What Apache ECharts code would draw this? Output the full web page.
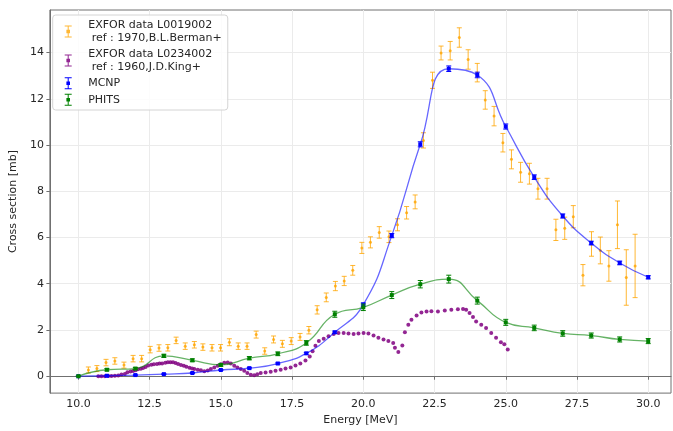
<!DOCTYPE html>
<html><head><meta charset="utf-8">
<script src="https://cdn.jsdelivr.net/npm/echarts@6/dist/echarts.min.js"></script>
<style>html,body{margin:0;padding:0;background:#fff}#c{width:673px;height:431px}</style>
</head><body><div id="c"></div>
<script>
// ---------- data ----------
const xTicks = [10, 12.5, 15, 17.5, 20, 22.5, 25, 27.5, 30];
const yTicks = [0, 2, 4, 6, 8, 10, 12, 14];

const legendNames = ['EXFOR data L0019002', 'EXFOR data L0234002', 'MCNP', 'PHITS'];
const legendLabels = ['EXFOR data L0019002\n ref : 1970,B.L.Berman+', 'EXFOR data L0234002\n ref : 1960,J.D.King+', 'MCNP', 'PHITS'];

const bermanE = [10.35,10.65,10.97,11.28,11.60,11.92,12.22,12.52,12.83,13.14,13.43,13.75,14.07,14.37,14.69,14.99,15.30,15.61,15.92,16.24,16.54,16.85,17.16,17.47,17.78,18.09,18.38,18.70,19.02,19.33,19.63,19.95,20.25,20.56,20.90,21.20,21.52,21.82,22.11,22.43,22.73,23.05,23.37,23.68,24.00,24.28,24.59,24.90,25.20,25.52,25.83,26.13,26.45,26.76,27.07,27.37,27.71,28.01,28.32,28.62,28.92,29.23,29.54];
const bermanV = [0.27,0.33,0.59,0.66,0.48,0.76,0.76,1.15,1.22,1.23,1.55,1.30,1.36,1.26,1.23,1.23,1.47,1.30,1.30,1.80,1.09,1.59,1.40,1.52,1.70,1.99,2.87,3.41,3.90,4.12,4.58,5.55,5.79,6.22,6.03,6.55,7.07,7.54,10.20,12.80,13.98,14.08,14.65,13.70,13.13,11.95,11.25,10.10,9.38,8.82,8.76,8.11,8.11,6.33,6.40,6.90,4.37,5.72,5.44,4.77,6.55,4.27,4.77];
const bermanErr = [0.13,0.13,0.14,0.14,0.13,0.14,0.14,0.14,0.14,0.14,0.14,0.14,0.14,0.14,0.14,0.14,0.15,0.14,0.14,0.15,0.14,0.15,0.15,0.15,0.15,0.16,0.18,0.19,0.20,0.20,0.21,0.24,0.24,0.25,0.25,0.26,0.27,0.30,0.33,0.35,0.30,0.40,0.42,0.42,0.40,0.40,0.42,0.40,0.41,0.43,0.45,0.45,0.45,0.46,0.48,0.48,0.46,0.53,0.58,0.66,1.03,1.20,1.37];

const kingE = [10.70,10.81,10.93,11.05,11.16,11.28,11.40,11.51,11.63,11.72,11.83,11.92,12.01,12.09,12.19,12.27,12.36,12.45,12.56,12.65,12.76,12.85,12.94,13.05,13.14,13.23,13.32,13.41,13.50,13.60,13.70,13.79,13.90,13.99,14.07,14.19,14.30,14.42,14.54,14.65,14.77,14.89,15.00,15.12,15.24,15.35,15.47,15.58,15.70,15.82,15.93,16.05,16.17,16.28,16.40,16.57,16.75,16.92,17.10,17.27,17.45,17.62,17.79,17.97,18.12,18.22,18.32,18.44,18.61,18.78,18.96,19.13,19.31,19.48,19.66,19.83,20.01,20.18,20.36,20.53,20.71,20.88,21.05,21.11,21.23,21.37,21.46,21.58,21.69,21.87,22.04,22.22,22.39,22.62,22.86,23.09,23.32,23.50,23.61,23.73,23.85,23.96,24.14,24.31,24.49,24.66,24.83,24.95,25.07];
const kingV = [0.00,0.00,0.00,0.01,0.01,0.02,0.03,0.07,0.10,0.17,0.20,0.23,0.26,0.30,0.32,0.36,0.40,0.46,0.50,0.52,0.53,0.55,0.55,0.58,0.60,0.60,0.60,0.57,0.53,0.49,0.45,0.41,0.37,0.33,0.31,0.28,0.26,0.22,0.25,0.31,0.38,0.45,0.52,0.58,0.59,0.55,0.45,0.38,0.31,0.24,0.14,0.06,0.04,0.09,0.14,0.16,0.19,0.24,0.28,0.33,0.38,0.46,0.55,0.68,0.85,1.08,1.32,1.52,1.62,1.73,1.83,1.87,1.87,1.85,1.83,1.85,1.87,1.85,1.76,1.66,1.59,1.52,1.44,1.23,1.05,1.33,1.90,2.23,2.44,2.63,2.76,2.80,2.81,2.80,2.84,2.87,2.90,2.91,2.87,2.73,2.56,2.37,2.23,2.09,1.87,1.66,1.47,1.38,1.16];

const mcnpE = [10,11,12,13,14,15,16,17,18,19,20,21,22,23,24,25,26,27,28,29,30];
const mcnpV = [0.00,0.02,0.05,0.09,0.14,0.27,0.35,0.55,0.99,1.90,3.10,6.08,10.03,13.30,13.03,10.80,8.61,6.93,5.76,4.90,4.28];
const mcnpErr = [0.01,0.01,0.01,0.02,0.02,0.02,0.03,0.03,0.04,0.05,0.07,0.09,0.11,0.12,0.12,0.11,0.10,0.09,0.08,0.08,0.07];

const phitsE = [10,11,12,13,14,15,16,17,18,19,20,21,22,23,24,25,26,27,28,29,30];
const phitsV = [0.00,0.28,0.33,0.88,0.69,0.49,0.78,0.97,1.44,2.68,2.98,3.51,3.98,4.20,3.27,2.33,2.09,1.85,1.76,1.59,1.52];
const phitsErr = [0.01,0.05,0.05,0.07,0.06,0.06,0.07,0.08,0.10,0.13,0.14,0.15,0.16,0.17,0.15,0.13,0.12,0.12,0.11,0.11,0.11];

// ---------- styling ----------
const FONT = 'DejaVu Sans';
const cOrange = '#FFA500', cPurple = '#800080', cBlue = '#0000FF', cGreen = '#008000';
const ebIcon = 'path://M0,6h0.02v0.02h-0.02z M29.98,6h0.02v0.02h-0.02z M11.5,0h7v1h-7z M14.5,0h1v12h-1z M11.5,11h7v1h-7z M13.2,4.2h3.6v3.6h-3.6z';

function errRender(color, capHalf, m, shape, opacity) {
  return function (params, api) {
    const x = api.value(0), y = api.value(1), e = api.value(2);
    const p = api.coord([x, y]), t = api.coord([x, y + e]), b = api.coord([x, y - e]);
    const st = { stroke: color, lineWidth: 1, opacity: opacity };
    const ch = [
      { type: 'line', shape: { x1: p[0], y1: t[1], x2: p[0], y2: b[1] }, style: st },
      { type: 'line', shape: { x1: p[0] - capHalf, y1: t[1], x2: p[0] + capHalf, y2: t[1] }, style: st },
      { type: 'line', shape: { x1: p[0] - capHalf, y1: b[1], x2: p[0] + capHalf, y2: b[1] }, style: st }
    ];
    if (shape === 'rect') ch.push({ type: 'rect', shape: { x: p[0] - m / 2, y: p[1] - m / 2, width: m, height: m }, style: { fill: color, opacity: opacity } });
    else ch.push({ type: 'circle', shape: { cx: p[0], cy: p[1], r: m / 2 }, style: { fill: color, opacity: opacity } });
    return { type: 'group', children: ch };
  };
}
const zip3 = (a, b, c) => a.map((v, i) => [v, b[i], c[i]]);
const zip2 = (a, b) => a.map((v, i) => [v, b[i]]);

const axisCol = '#707070';
const chart = echarts.init(document.getElementById('c'), null, { renderer: 'canvas' });
chart.setOption({
  animation: false,
  textStyle: { fontFamily: FONT },
  grid: { left: 46.4, right: 2, top: 10, bottom: 34, show: true, borderColor: axisCol, borderWidth: 1, containLabel: false },
  xAxis: {
    type: 'value', min: 9, max: 30.8,
    name: 'Energy [MeV]', nameLocation: 'middle', nameGap: 21,
    nameTextStyle: { fontFamily: FONT, fontSize: 11, color: '#262626' },
    axisLine: { show: true, lineStyle: { color: axisCol } },
    axisTick: { show: true, length: 3.5, customValues: xTicks, lineStyle: { color: axisCol } },
    axisLabel: { customValues: xTicks, formatter: v => Number(v).toFixed(1), fontFamily: FONT, fontSize: 11, color: '#262626', margin: 6 },
    splitLine: { show: true, lineStyle: { color: '#ebebeb', width: 1 } }
  },
  yAxis: {
    type: 'value', min: -0.73, max: 15.84,
    name: 'Cross section [mb]', nameLocation: 'middle', nameGap: 18,
    nameTextStyle: { fontFamily: FONT, fontSize: 11, color: '#262626' },
    axisLine: { show: true, lineStyle: { color: axisCol } },
    axisTick: { show: true, length: 3.5, customValues: yTicks, lineStyle: { color: axisCol } },
    axisLabel: { customValues: yTicks, formatter: v => String(Math.round(v)), fontFamily: FONT, fontSize: 11, color: '#262626', margin: 6 },
    splitLine: { show: true, lineStyle: { color: '#ebebeb', width: 1 } }
  },
  legend: {
    orient: 'vertical', left: 52.7, top: 15,
    padding: [4, 6, 4, 0.5], itemGap: 4, itemWidth: 30, itemHeight: 12,
    symbolKeepAspect: false,
    backgroundColor: 'rgba(255,255,255,0.85)', borderColor: '#d4d4d4', borderWidth: 1, borderRadius: 3,
    selectedMode: false,
    textStyle: { fontFamily: FONT, fontSize: 11, color: '#262626', lineHeight: 12.5 },
    formatter: n => legendLabels[legendNames.indexOf(n)],
    data: [
      { name: legendNames[0], icon: ebIcon, itemStyle: { color: cOrange, opacity: 0.8 } },
      { name: legendNames[1], icon: ebIcon, itemStyle: { color: cPurple } },
      { name: legendNames[2], icon: ebIcon, itemStyle: { color: cBlue } },
      { name: legendNames[3], icon: ebIcon, itemStyle: { color: cGreen } }
    ]
  },
  series: [
    { name: legendNames[0], type: 'custom', renderItem: errRender(cOrange, 2.5, 3, 'circle', 0.8),
      data: zip3(bermanE, bermanV, bermanErr), encode: { x: 0, y: 1 }, z: 2 },
    { name: legendNames[1], type: 'scatter', data: zip2(kingE, kingV), symbol: 'circle', symbolSize: 4,
      itemStyle: { color: cPurple, opacity: 0.85 }, z: 3 },
    { name: legendNames[2], type: 'line', data: zip2(mcnpE, mcnpV), smooth: 0.5, showSymbol: false,
      lineStyle: { color: cBlue, width: 1.3, opacity: 0.6 }, itemStyle: { color: cBlue }, z: 4 },
    { name: legendNames[2], type: 'custom', renderItem: errRender(cBlue, 2.5, 4, 'rect', 1),
      data: zip3(mcnpE, mcnpV, mcnpErr), encode: { x: 0, y: 1 }, z: 5 },
    { name: legendNames[3], type: 'line', data: zip2(phitsE, phitsV), smooth: 0.5, showSymbol: false,
      lineStyle: { color: cGreen, width: 1.3, opacity: 0.6 }, itemStyle: { color: cGreen }, z: 6 },
    { name: legendNames[3], type: 'custom', renderItem: errRender(cGreen, 2.5, 4, 'rect', 1),
      data: zip3(phitsE, phitsV, phitsErr), encode: { x: 0, y: 1 }, z: 7 }
  ]
});
</script></body></html>
